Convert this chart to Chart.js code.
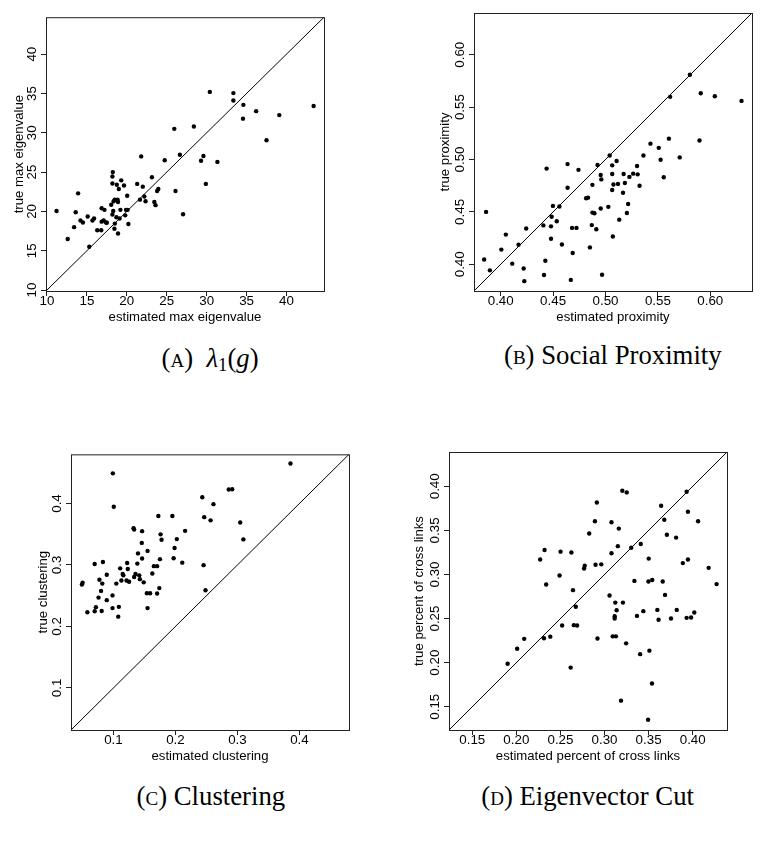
<!DOCTYPE html>
<html>
<head>
<meta charset="utf-8">
<script src="https://cdn.jsdelivr.net/npm/chart.js@4.4.1/dist/chart.umd.min.js"></script>
<style>
  html, body { margin: 0; padding: 0; background: #fff; }
  body { width: 780px; height: 844px; position: relative; overflow: hidden; }
  canvas { position: absolute; }
  .cap { position: absolute; white-space: nowrap; font-family: 'Liberation Serif', serif;
         line-height: 1; transform: translate(-50%, -50%); color: #000; }
  .cap .sc { font-variant: small-caps; }
  .cap sub { font-size: 0.7em; vertical-align: -0.25em; line-height: 0; }
</style>
</head>
<body>
<canvas id="chartA"></canvas>
<canvas id="chartB"></canvas>
<canvas id="chartC"></canvas>
<canvas id="chartD"></canvas>
<div class="cap" id="capA">(<span class="sc">a</span>)&nbsp; <i>λ</i><sub>1</sub>(<i>g</i>)</div>
<div class="cap" id="capB">(<span class="sc">b</span>) Social Proximity</div>
<div class="cap" id="capC">(<span class="sc">c</span>) Clustering</div>
<div class="cap" id="capD">(<span class="sc">d</span>) Eigenvector Cut</div>
<script>
'use strict'

// (A) max eigenvalue
let estMaxEig = [11.2, 12.6, 13.4, 13.6, 13.9, 14.2, 14.5, 15.1, 15.3, 15.7,
  15.9, 16.3, 16.8, 16.85, 16.85, 17.2, 17.1, 17.4, 17.5, 18.05,
  18.2, 18.3, 18.25, 18.2, 18.2, 18.35, 18.5, 18.45, 18.5, 18.7,
  18.75, 18.85, 18.9, 19.0, 18.9, 19.1, 19.2, 19.3, 19.65, 19.8,
  19.9, 20.1, 20.05, 20.2, 21.3, 21.65, 21.8, 22.0, 22.2, 22.35,
  23.15, 23.45, 23.6, 23.8, 23.95, 24.75, 25.95, 26.1, 26.65, 27.05,
  28.4, 29.3, 29.6, 29.9, 30.4, 31.35, 33.35, 33.35, 34.6, 34.55,
  36.2, 37.5, 39.1, 43.4];
let trueMaxEig = [20.05, 16.5, 18.0, 19.9, 22.3, 18.85, 18.6, 19.35, 15.5, 18.85,
  19.1, 17.6, 17.6, 20.4, 18.7, 20.2, 18.85, 18.6, 18.55, 20.85,
  19.6, 20.05, 25.0, 24.45, 23.55, 21.3, 21.5, 17.8, 18.45, 19.25,
  23.4, 21.5, 21.2, 22.85, 17.2, 19.1, 20.2, 23.95, 23.3, 19.5,
  20.2, 20.2, 22.0, 18.4, 23.5, 21.5, 27.0, 23.15, 21.9, 21.3,
  24.35, 21.2, 20.8, 22.6, 22.85, 26.5, 30.5, 22.6, 27.2, 19.65,
  30.8, 26.45, 27.05, 23.5, 35.2, 26.3, 35.05, 34.1, 33.55, 31.8,
  32.75, 29.05, 32.25, 33.4];
let eigLimits = [9.88, 44.7];
let eigTicks = [10, 15, 20, 25, 30, 35, 40];

// (B) social proximity
let estProx = [0.3842, 0.386, 0.3897, 0.4006, 0.4049, 0.411, 0.417, 0.4219, 0.4225, 0.4243,
  0.4407, 0.4413, 0.4426, 0.4438, 0.448, 0.448, 0.4486, 0.4498, 0.4535, 0.456,
  0.4584, 0.4638, 0.4638, 0.4669, 0.4681, 0.4687, 0.4723, 0.4742, 0.4815, 0.4833,
  0.4851, 0.4869, 0.4875, 0.4875, 0.4894, 0.4912, 0.4924, 0.4954, 0.4954, 0.496,
  0.4967, 0.5027, 0.504, 0.5064, 0.5064, 0.5064, 0.507, 0.5076, 0.5106, 0.5119,
  0.5131, 0.5167, 0.5173, 0.5185, 0.5204, 0.5216, 0.5228, 0.5264, 0.5301, 0.5307,
  0.5325, 0.5362, 0.5429, 0.5508, 0.5526, 0.5556, 0.5605, 0.5617, 0.5708, 0.5805,
  0.5897, 0.5909, 0.6043, 0.6298];
let trueProx = [0.4046, 0.450, 0.3942, 0.414, 0.4283, 0.4006, 0.4186, 0.396, 0.3839, 0.4341,
  0.4371, 0.3897, 0.4033, 0.4913, 0.4362, 0.4244, 0.4454, 0.4557, 0.4411, 0.4551,
  0.4189, 0.4956, 0.4731, 0.3851, 0.4347, 0.4107, 0.4347, 0.4901, 0.463, 0.4636,
  0.4161, 0.4374, 0.4758, 0.4493, 0.4487, 0.4335, 0.4947, 0.4852, 0.4533, 0.481,
  0.39, 0.4548, 0.5038, 0.4944, 0.4861, 0.4709, 0.4265, 0.4761, 0.4986, 0.4767,
  0.4426, 0.4682, 0.4861, 0.4776, 0.449, 0.4575, 0.4834, 0.4865, 0.4938, 0.4858,
  0.4749, 0.5038, 0.5151, 0.5111, 0.4998, 0.4831, 0.5199, 0.5598, 0.502, 0.5808,
  0.5181, 0.5632, 0.5604, 0.5559];
let proxLimits = [0.3745, 0.6398];
let proxTicks = [0.40, 0.45, 0.50, 0.55, 0.60];

// (C) clustering
let estClust = [0.0491, 0.0502, 0.0579, 0.0697, 0.0697, 0.0717, 0.0759, 0.0774, 0.08, 0.081,
  0.082, 0.083, 0.0892, 0.0892, 0.0985, 0.099, 0.0985, 0.1005, 0.1046, 0.1077,
  0.1087, 0.1108, 0.1128, 0.1149, 0.1159, 0.1211, 0.1221, 0.1231, 0.1252, 0.1324,
  0.1334, 0.1334, 0.1355, 0.1385, 0.1396, 0.1416, 0.1426, 0.1457, 0.1462, 0.1462,
  0.1488, 0.1539, 0.155, 0.155, 0.1591, 0.1627, 0.1652, 0.1704, 0.1704, 0.1724,
  0.174, 0.175, 0.176, 0.1776, 0.195, 0.1971, 0.1986, 0.2022, 0.211, 0.2156,
  0.2433, 0.2454, 0.2464, 0.2485, 0.2567, 0.2613, 0.286, 0.2916, 0.3045, 0.3096,
  0.3856];
let trueClust = [0.2681, 0.2712, 0.2231, 0.2247, 0.3017, 0.2314, 0.2469, 0.2759, 0.2578, 0.2252,
  0.2697, 0.3048, 0.2428, 0.2841, 0.2505, 0.4491, 0.2298, 0.3948, 0.2697, 0.2159,
  0.2319, 0.2945, 0.2748, 0.2852, 0.2831, 0.2748, 0.3033, 0.2935, 0.2728, 0.3597,
  0.3576, 0.2805, 0.2852, 0.3022, 0.3188, 0.2831, 0.2769, 0.3359, 0.355, 0.3105,
  0.2717, 0.2541, 0.3229, 0.2298, 0.2541, 0.2862, 0.2981, 0.2536, 0.2981, 0.3798,
  0.2624, 0.3095, 0.3498, 0.341, 0.3798, 0.311, 0.3276, 0.3421, 0.3038, 0.3555,
  0.4103, 0.2997, 0.3778, 0.2588, 0.3726, 0.399, 0.4228, 0.4233, 0.369, 0.3416,
  0.4652];
let clustLimits = [0.0315, 0.480];
let clustTicks = [0.1, 0.2, 0.3, 0.4];

// (D) eigenvector cut
let estCut = [0.1901, 0.2009, 0.2089, 0.227, 0.2313, 0.232, 0.2338, 0.2385, 0.249, 0.2501,
  0.2519, 0.2616, 0.2624, 0.2642, 0.2652, 0.2674, 0.2689, 0.2768, 0.2775, 0.2826,
  0.2891, 0.2898, 0.2913, 0.292, 0.2963, 0.3057, 0.3079, 0.3079, 0.3093, 0.3115,
  0.3115, 0.3122, 0.3129, 0.3137, 0.3151, 0.3162, 0.3187, 0.3202, 0.3209, 0.3245,
  0.3252, 0.3303, 0.3339, 0.3368, 0.3404, 0.3411, 0.344, 0.3498, 0.3501, 0.3509,
  0.3538, 0.3541, 0.3599, 0.3613, 0.3642, 0.366, 0.3678, 0.3686, 0.3707, 0.3754,
  0.3812, 0.3819, 0.3888, 0.3931, 0.3931, 0.3946, 0.3946, 0.3982, 0.4018, 0.4061,
  0.4181, 0.4271, 0.3494];
let trueCut = [0.1988, 0.2158, 0.227, 0.3169, 0.2277, 0.3277, 0.2887, 0.2295, 0.2988, 0.3259,
  0.2421, 0.1944, 0.3249, 0.2822, 0.2425, 0.2634, 0.2421, 0.3068, 0.31, 0.3465,
  0.3603, 0.3111, 0.3816, 0.2273, 0.3115, 0.2761, 0.3592, 0.3241, 0.2298, 0.2526,
  0.2501, 0.2681, 0.2298, 0.2595, 0.3321, 0.352, 0.1569, 0.3949, 0.2681, 0.2219,
  0.3931, 0.3303, 0.2927, 0.253, 0.2096, 0.3346, 0.2584, 0.292, 0.318, 0.2136,
  0.1764, 0.2938, 0.2598, 0.2486, 0.378, 0.292, 0.3621, 0.2768, 0.3451, 0.2501,
  0.3418, 0.2598, 0.3129, 0.3939, 0.2508, 0.3711, 0.3169, 0.2512, 0.2569, 0.3603,
  0.3075, 0.2891, 0.1352];
let cutLimits = [0.1236, 0.4389];
let cutTicks = [0.15, 0.20, 0.25, 0.30, 0.35, 0.40];

// layout: everything was measured on a larger copy, so scale it down
let S = 0.955;
let BOX = Math.round(291 * S);
let AXIS_W = 40;
let AXIS_H = 40;
let PAD_TOP = 4;
let PAD_RIGHT = 6;
let TICK_LEN = 5;
let tickFont = { family: "'Liberation Sans', Arial, sans-serif", size: 14 * S, lineHeight: 1 };
let titleFont = { family: "'Liberation Sans', Arial, sans-serif", size: 13.8 * S, lineHeight: 1.2 };

function widestLabel(labels) {
  let c = document.createElement('canvas').getContext('2d');
  c.font = tickFont.size + 'px ' + tickFont.family;
  let w = 0;
  labels.forEach(function (l) { w = Math.max(w, c.measureText(l).width); });
  return w;
}

let boxPlugin = {
  id: 'plotBox',
  afterDraw: function (chart) {
    let a = chart.chartArea;
    let ctx = chart.ctx;
    ctx.save();
    ctx.strokeStyle = '#222';
    ctx.lineWidth = 1;
    ctx.strokeRect(a.left + 0.5, a.top + 0.5, a.right - a.left, a.bottom - a.top);
    ctx.restore();
  }
};

function makePanel(id, xs, ys, limits, ticks, digits, xTitle, yTitle, left, top, yTitleGap) {
  let boxLeft = Math.round(left * S);
  let boxTop = Math.round(top * S);
  let canvas = document.getElementById(id);
  canvas.width = AXIS_W + BOX + PAD_RIGHT;
  canvas.height = PAD_TOP + BOX + AXIS_H;
  canvas.style.left = (boxLeft - AXIS_W) + 'px';
  canvas.style.top = (boxTop - PAD_TOP) + 'px';

  let points = xs.map(function (x, i) { return { x: x, y: ys[i] }; });
  let diag = [{ x: limits[0], y: limits[0] }, { x: limits[1], y: limits[1] }];
  let fmt = function (v) { return Number(v).toFixed(digits); };
  let labels = ticks.map(fmt);
  let yPad = 14.6 * S - TICK_LEN - widestLabel(labels) / 2;
  let xPad = 10.4 * S - TICK_LEN - tickFont.size / 2;
  let titleHalf = titleFont.size * titleFont.lineHeight / 2;

  let axisCommon = {
    type: 'linear',
    min: limits[0],
    max: limits[1],
    afterBuildTicks: function (scale) {
      scale.ticks = ticks.map(function (v) { return { value: v }; });
    },
    grid: { display: true, drawOnChartArea: false, drawTicks: true, tickLength: TICK_LEN, color: '#222' },
    border: { display: false }
  };

  return new Chart(canvas, {
    type: 'scatter',
    data: {
      datasets: [
        {
          data: points,
          pointRadius: 2.2,
          pointBackgroundColor: '#000',
          pointBorderWidth: 0
        },
        {
          data: diag,
          showLine: true,
          borderColor: '#000',
          borderWidth: 1,
          pointRadius: 0
        }
      ]
    },
    options: {
      responsive: false,
      animation: false,
      devicePixelRatio: 1,
      layout: { padding: { top: PAD_TOP, right: PAD_RIGHT, left: 0, bottom: 0 } },
      plugins: { legend: { display: false }, tooltip: { enabled: false } },
      scales: {
        x: Object.assign({}, axisCommon, {
          position: 'bottom',
          afterFit: function (scale) { scale.height = AXIS_H; },
          ticks: { font: tickFont, color: '#000', padding: xPad, maxRotation: 0, autoSkip: false, callback: fmt },
          title: { display: true, text: xTitle, font: titleFont, color: '#000',
                   padding: { top: 0, bottom: AXIS_H - 27.5 * S - titleHalf } }
        }),
        y: Object.assign({}, axisCommon, {
          position: 'left',
          afterFit: function (scale) { scale.width = AXIS_W; },
          ticks: { font: tickFont, color: '#000', padding: yPad, minRotation: 90, maxRotation: 90,
                   crossAlign: 'center', autoSkip: false, callback: fmt },
          title: { display: true, text: yTitle, font: titleFont, color: '#000',
                   padding: { top: AXIS_W - yTitleGap * S - titleHalf, bottom: 0 } }
        })
      }
    },
    plugins: [boxPlugin]
  });
}

makePanel('chartA', estMaxEig, trueMaxEig, eigLimits, eigTicks, 0,
  'estimated max eigenvalue', 'true max eigenvalue', 48, 14, 28);
makePanel('chartB', estProx, trueProx, proxLimits, proxTicks, 2,
  'estimated proximity', 'true proximity', 496, 14, 30.3);
makePanel('chartC', estClust, trueClust, clustLimits, clustTicks, 1,
  'estimated clustering', 'true clustering', 74, 473, 29.3);
makePanel('chartD', estCut, trueCut, cutLimits, cutTicks, 2,
  'estimated percent of cross links', 'true percent of cross links', 470, 473, 30.7);

function placeCaption(id, cx, cy) {
  let el = document.getElementById(id);
  el.style.fontSize = (28 * S) + 'px';
  el.style.left = (cx * S) + 'px';
  el.style.top = (cy * S) + 'px';
}
placeCaption('capA', 220, 375);
placeCaption('capB', 641.7, 372);
placeCaption('capC', 220.8, 834);
placeCaption('capD', 615.3, 833.5);
</script>
</body>
</html>
